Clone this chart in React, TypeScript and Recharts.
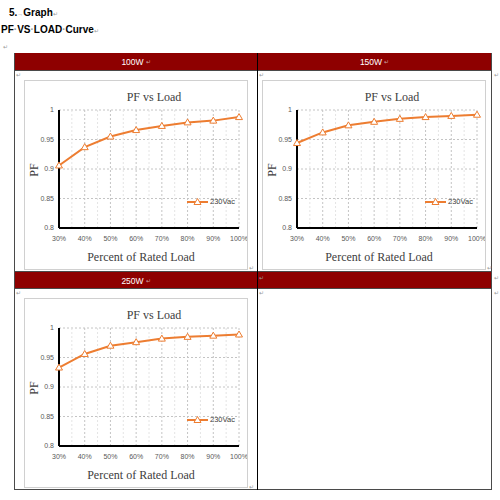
import { CartesianGrid, Legend, Line, LineChart, ReferenceLine, XAxis, YAxis } from "recharts";

// values (PF at each % of rated load)
const loads = [30, 40, 50, 60, 70, 80, 90, 100];
const minorLoads = [35, 45, 55, 65, 75, 85, 95];
const pf100W = [0.906, 0.937, 0.955, 0.966, 0.973, 0.979, 0.982, 0.988];
const pf150W = [0.944, 0.962, 0.974, 0.98, 0.985, 0.988, 0.99, 0.992];
const pf250W = [0.933, 0.956, 0.97, 0.976, 0.982, 0.985, 0.987, 0.989];
const pfTicks = [0.8, 0.85, 0.9, 0.95, 1];
const seriesName = "230Vac";

const ORANGE = "#ED7D31";
const HEADER = "#8E0000";
const TABLE_LINE = "#4a4a4a";
const MARK = "#9a9a9a";

const tickStyle = { fill: "#595959", fontSize: 7, fontFamily: "Liberation Sans, Arial, sans-serif" };
const serif = "Liberation Serif, Times New Roman, serif";

const Triangle = (props: any) => {
  const { cx, cy, index } = props;
  return (
    <path
      key={index}
      d={`M${cx},${cy - 3.5} L${cx + 3.5},${cy + 2.5} L${cx - 3.5},${cy + 2.5} Z`}
      fill="#fff"
      stroke={ORANGE}
      strokeWidth={1}
    />
  );
};

const LegendBox = () => (
  <div style={{ display: "flex", alignItems: "center" }}>
    <svg width={21} height={8}>
      <line x1={0} y1={4} x2={21} y2={4} stroke={ORANGE} strokeWidth={2} />
      <path d="M10.5,0.5 L14,6.5 L7,6.5 Z" fill="#fff" stroke={ORANGE} strokeWidth={1} />
    </svg>
    <span style={{ fontSize: 7.5, fontFamily: tickStyle.fontFamily, color: "#404040", marginLeft: 2 }}>{seriesName}</span>
  </div>
);

function PfChart({ values, left, top }: { values: number[]; left: number; top: number }) {
  const data = loads.map((load, i) => ({ load, pf: values[i] }));
  return (
    <div
      style={{
        position: "absolute",
        left,
        top,
        width: 224,
        height: 190,
        border: "1px solid #d0d0d0",
        boxSizing: "border-box",
        background: "#fff",
      }}
    >
      <LineChart
        width={222}
        height={188}
        data={data}
        margin={{ top: 29, right: 8, bottom: 21, left: 4 }}
        style={{ overflow: "visible" }}
      >
        <CartesianGrid stroke="#c4c4c4" strokeDasharray="2 2" />
        {minorLoads.map((v) => (
          <ReferenceLine key={v} x={v} stroke="#e4e4e4" strokeDasharray="2 2" />
        ))}
        <XAxis
          dataKey="load"
          type="number"
          domain={[30, 100]}
          ticks={loads}
          interval={0}
          tickFormatter={(v) => `${v}%`}
          axisLine={{ stroke: "#000", strokeWidth: 2 }}
          tickLine={false}
          tick={tickStyle}
          height={20}
        />
        <YAxis
          domain={[0.8, 1]}
          ticks={pfTicks}
          interval={0}
          width={30}
          axisLine={{ stroke: "#000", strokeWidth: 2 }}
          tickLine={false}
          tickSize={4}
          tickMargin={1}
          tick={tickStyle}
        />
        <Line
          dataKey="pf"
          name={seriesName}
          stroke={ORANGE}
          strokeWidth={2}
          dot={Triangle}
          isAnimationActive={false}
        />
        <Legend
          content={LegendBox}
          layout="horizontal"
          verticalAlign="middle"
          align="center"
          wrapperStyle={{ position: "absolute", left: 162, top: 116, width: 60 }}
        />
      </LineChart>
      <div style={{ position: "absolute", left: 129, top: 16, transform: "translate(-50%,-50%)", fontFamily: serif, fontSize: 12, color: "#404040", whiteSpace: "nowrap" }}>
        PF vs Load
      </div>
      <div style={{ position: "absolute", left: 116, top: 176, transform: "translate(-50%,-50%)", fontFamily: serif, fontSize: 12, color: "#404040", whiteSpace: "nowrap" }}>
        Percent of Rated Load
      </div>
      <div style={{ position: "absolute", left: 9, top: 89, transform: "translate(-50%,-50%) rotate(-90deg)", fontFamily: serif, fontSize: 12, color: "#404040" }}>
        PF
      </div>
    </div>
  );
}

const Mark = ({ x, y }: { x: number; y: number }) => (
  <span style={{ position: "absolute", left: x, top: y, fontSize: 6, color: MARK, lineHeight: 1 }}>↵</span>
);

function Header({ left, width, top, label }: { left: number; width: number; top: number; label: string }) {
  return (
    <div
      style={{
        position: "absolute",
        left,
        top,
        width,
        height: 17,
        background: HEADER,
        color: "#fff",
        fontFamily: "Liberation Sans, Arial, sans-serif",
        fontSize: 8.5,
        display: "flex",
        alignItems: "center",
        justifyContent: "center",
      }}
    >
      {label}
      {label && <span style={{ color: "#c9a0a0", fontSize: 6, marginLeft: 2 }}>↵</span>}
    </div>
  );
}

export default function App() {
  const bold = { fontFamily: "Liberation Sans, Arial, sans-serif", fontWeight: 700, fontSize: 10, color: "#000" };
  return (
    <div style={{ position: "absolute", left: 0, top: 0, width: 500, height: 500, background: "#fff", overflow: "hidden" }}>
      <div style={{ position: "absolute", left: 9, top: 7, ...bold }}>
        5.<span style={{ color: MARK, fontSize: 6, fontWeight: 400 }}>→</span>Graph<span style={{ color: MARK, fontSize: 6, fontWeight: 400 }}>↵</span>
      </div>
      <div style={{ position: "absolute", left: 1, top: 24, ...bold }}>
        PF<span style={{ color: MARK }}>·</span>VS<span style={{ color: MARK }}>·</span>LOAD<span style={{ color: MARK }}>·</span>Curve
        <span style={{ color: MARK, fontSize: 6, fontWeight: 400 }}>↵</span>
      </div>
      <Mark x={3} y={44} />

      {/* table frame */}
      <div style={{ position: "absolute", left: 14, top: 53, width: 478, height: 437, border: `1px solid ${TABLE_LINE}`, boxSizing: "border-box" }} />

      <Header left={15} width={242} top={53} label="100W" />
      <Header left={258} width={233} top={53} label="150W" />
      <Header left={15} width={242} top={272} label="250W" />
      <Header left={258} width={233} top={272} label="" />
      <div style={{ position: "absolute", left: 14, top: 70, width: 478, height: 1, background: TABLE_LINE }} />
      <div style={{ position: "absolute", left: 14, top: 271, width: 478, height: 1, background: TABLE_LINE }} />
      <div style={{ position: "absolute", left: 14, top: 288, width: 478, height: 1, background: TABLE_LINE }} />
      <div style={{ position: "absolute", left: 257, top: 53, width: 1, height: 437, background: "#000" }} />

      <Mark x={16} y={72} />
      <Mark x={259} y={72} />
      <Mark x={494} y={72} />
      <Mark x={249} y={265} />
      <Mark x={487} y={265} />
      <Mark x={259} y={275} />
      <Mark x={494} y={275} />
      <Mark x={16} y={290} />
      <Mark x={259} y={290} />
      <Mark x={494} y={290} />
      <Mark x={249} y={484} />

      <PfChart values={pf100W} left={24} top={80} />
      <PfChart values={pf150W} left={262} top={80} />
      <PfChart values={pf250W} left={24} top={298} />
    </div>
  );
}
